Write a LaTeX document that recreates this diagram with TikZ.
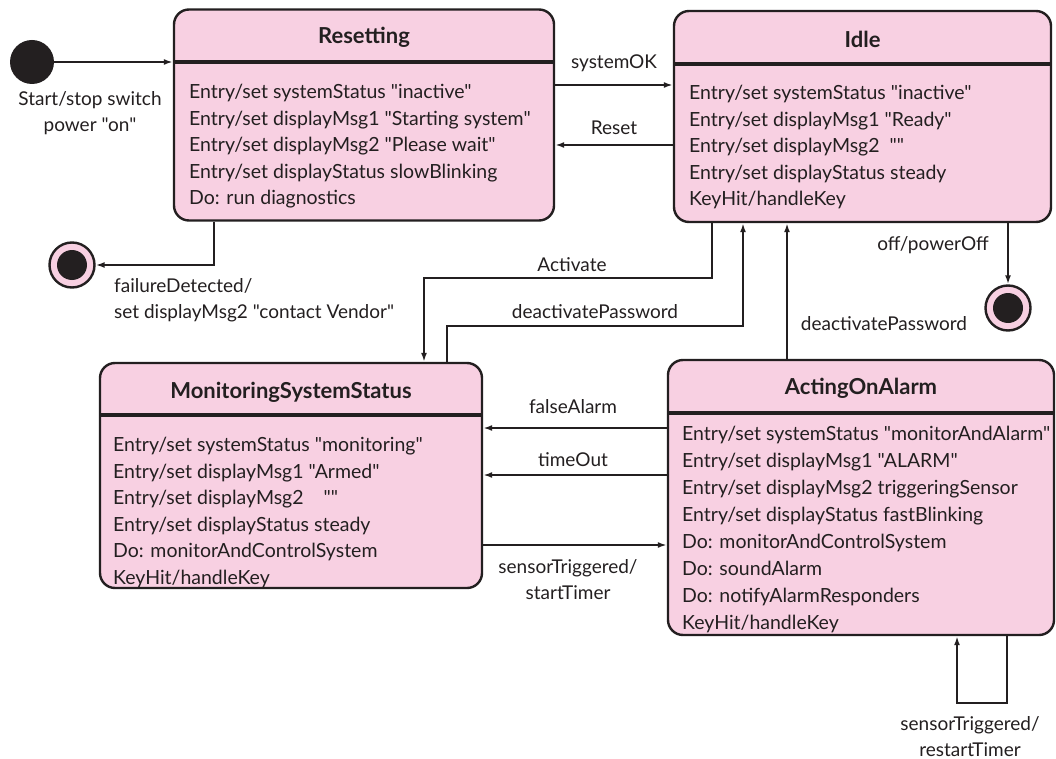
\documentclass[tikz,border=0pt]{standalone}
\usepackage{fontspec}
\setmainfont{Lato}[Ligatures=TeXOff]
\usetikzlibrary{arrows.meta}
\definecolor{pinkfill}{RGB}{248,208,226}
\definecolor{ink}{RGB}{35,31,32}
\begin{document}
\begin{tikzpicture}[x=1pt,y=-1pt,
  statebox/.style={draw=ink, line width=2.4pt, fill=pinkfill, rounded corners=15pt, inner sep=0pt},
  titletext/.style={font=\fontsize{22}{24}\selectfont\bfseries, text=ink, inner sep=0pt},
  bodytext/.style={font=\fontsize{19.5}{26.5}\selectfont, text=ink, align=left, anchor=base west, inner sep=0pt},
  lbl/.style={font=\fontsize{19}{26}\selectfont, text=ink, inner sep=0pt, align=center},
  conn/.style={draw=ink, line width=2pt},
  arr/.style={conn, -{Latex[length=9pt,width=6pt]}},
  sepline/.style={draw=ink, line width=4pt},
  initstate/.style={circle, fill=ink, minimum size=44pt, inner sep=0pt},
  finalstate/.style={circle, draw=ink, line width=2.4pt, fill=pinkfill, minimum size=45pt, inner sep=0pt},
  finaldot/.style={circle, fill=ink, minimum size=30pt, inner sep=0pt}
]
\useasboundingbox[fill=white] (0,0) rectangle (1056,759);

% ---- states ----
\node[statebox, minimum width=380pt, minimum height=211pt] (reset) at (364,115) {};
\node[titletext] (resetT) at (364,37) {Resetting};
\draw[sepline] (174,62) -- (554,62);
\node[bodytext] (resetB) at (189,205) {Entry/set systemStatus "inactive"\\Entry/set displayMsg1 "Starting system"\\Entry/set displayMsg2 "Please wait"\\Entry/set displayStatus slowBlinking\\Do: run diagnostics};

\node[statebox, minimum width=377pt, minimum height=211pt] (idle) at (862.5,116.5) {};
\node[titletext] (idleT) at (862.5,39) {Idle};
\draw[sepline] (674,64) -- (1051,64);
\node[bodytext] (idleB) at (689,206) {Entry/set systemStatus "inactive"\\Entry/set displayMsg1 "Ready"\\Entry/set displayMsg2 \ ""\\Entry/set displayStatus steady\\KeyHit/handleKey};

\node[statebox, minimum width=382pt, minimum height=225pt] (mon) at (291,475.5) {};
\node[titletext] (monT) at (291,392) {MonitoringSystemStatus};
\draw[sepline] (100,415) -- (482,415);
\node[bodytext] (monB) at (113,584) {Entry/set systemStatus "monitoring"\\Entry/set displayMsg1 "Armed"\\Entry/set displayMsg2 \ \ \ ""\\Entry/set displayStatus steady\\Do: monitorAndControlSystem\\KeyHit/handleKey};

\node[statebox, minimum width=386pt, minimum height=275pt] (act) at (861,497.5) {};
\node[titletext] (actT) at (861,388) {ActingOnAlarm};
\draw[sepline] (668,413) -- (1054,413);
\node[bodytext, font=\fontsize{19.5}{27}\selectfont] (actB) at (682,629) {Entry/set systemStatus "monitorAndAlarm"\\Entry/set displayMsg1 "ALARM"\\Entry/set displayMsg2 triggeringSensor\\Entry/set displayStatus fastBlinking\\Do: monitorAndControlSystem\\Do: soundAlarm\\Do: notifyAlarmResponders\\KeyHit/handleKey};

% ---- pseudo states ----
\node[initstate] (init) at (32,62) {};
\node[finalstate] (fin1) at (72,265) {};
\node[finaldot] (fin1d) at (72,265) {};
\node[finalstate] (fin2) at (1008,308) {};
\node[finaldot] (fin2d) at (1008,308) {};

% ---- helper coordinates ----
\coordinate (sysok) at (614,85);
\coordinate (rst) at (614,145);
\coordinate (fdx) at (214,265);
\coordinate (actR) at (712,278);
\coordinate (actL) at (424,278);
\coordinate (dpL) at (447,326);
\coordinate (dpR) at (743,326);
\coordinate (dp2) at (787,300);
\coordinate (offx) at (1008,300);
\coordinate (fa) at (573,428);
\coordinate (to) at (573,475);
\coordinate (st) at (573,545);
\coordinate (loopR) at (1007,703);
\coordinate (loopL) at (957,703);

% ---- transitions ----
\draw[arr] (init) -- (reset.west |- init);
\draw[arr] (reset.east |- sysok) -- (idle.west |- sysok);
\draw[arr] (idle.west |- rst) -- (reset.east |- rst);
\draw[arr] (reset.south -| fdx) -- (fdx) -- (fin1);
\draw[arr] (idle.south -| actR) -- (actR) -- (actL) -- (mon.north -| actL);
\draw[arr] (mon.north -| dpL) -- (dpL) -- (dpR) -- (idle.south -| dpR);
\draw[arr] (act.north -| dp2) -- (idle.south -| dp2);
\draw[arr] (idle.south -| offx) -- (fin2);
\draw[arr] (act.west |- fa) -- (mon.east |- fa);
\draw[arr] (act.west |- to) -- (mon.east |- to);
\draw[arr] (mon.east |- st) -- (act.west |- st);
\draw[arr] (act.south -| loopR) -- (loopR) -- (loopL) -- (act.south -| loopL);

% ---- labels ----
\node[lbl] (lStart) at (90,113) {Start/stop switch\\power "on"};
\node[lbl, align=left, anchor=west] (lFail) at (114,300) {failureDetected/\\set displayMsg2 "contact Vendor"};
\node[lbl] (lSys) at (614,63) {systemOK};
\node[lbl] (lRst) at (614,128) {Reset};
\node[lbl] (lAct) at (572,265) {Activate};
\node[lbl] (lDp1) at (595,312) {deactivatePassword};
\node[lbl] (lDp2) at (884,324) {deactivatePassword};
\node[lbl] (lOff) at (933,245) {off/powerOff};
\node[lbl] (lFa) at (573,407) {falseAlarm};
\node[lbl] (lTo) at (573,460) {timeOut};
\node[lbl] (lSt) at (568,580) {sensorTriggered/\\startTimer};
\node[lbl] (lRt) at (970,737) {sensorTriggered/\\restartTimer};
\end{tikzpicture}
\end{document}
